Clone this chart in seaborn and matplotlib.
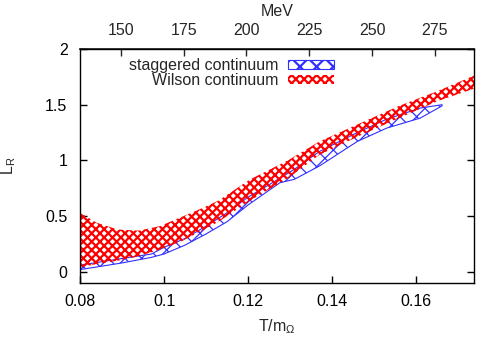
import numpy as np
import pandas as pd
import matplotlib
matplotlib.use("Agg")
import matplotlib.pyplot as plt
import seaborn as sns

# ---- data ----
wil_T  = [0.080, 0.084, 0.089, 0.094, 0.099, 0.104, 0.109, 0.113, 0.1205, 0.1295, 0.137, 0.1465, 0.156, 0.165, 0.175]
wil_hi = [0.53, 0.44, 0.38, 0.37, 0.41, 0.49, 0.57, 0.64, 0.83, 1.00, 1.17, 1.33, 1.49, 1.62, 1.78]
wil_lo = [0.04, 0.07, 0.10, 0.14, 0.20, 0.27, 0.37, 0.45, 0.64, 0.84, 1.05, 1.22, 1.38, 1.53, 1.66]

stg_T  = [0.080, 0.085, 0.090, 0.097, 0.100, 0.105, 0.110, 0.115, 0.120, 0.1276, 0.131, 0.137, 0.146, 0.153, 0.161, 0.1662]
stg_lo = [0.02, 0.05, 0.08, 0.13, 0.16, 0.24, 0.34, 0.45, 0.60, 0.80, 0.83, 0.95, 1.17, 1.29, 1.38, 1.49]
stg_hi = [0.06, 0.09, 0.12, 0.16, 0.22, 0.30, 0.41, 0.53, 0.67, 0.84, 0.92, 1.08, 1.25, 1.37, 1.47, 1.50]

m_omega = 1672.0
mev_ticks = [150, 175, 200, 225, 250, 275]
x_ticks = [0.08, 0.10, 0.12, 0.14, 0.16]
x_ticklabels = ["0.08", "0.1", "0.12", "0.14", "0.16"]
y_ticks = [0, 0.5, 1, 1.5, 2]
y_ticklabels = ["0", "0.5", "1", "1.5", "2"]

sns.set_theme(style="ticks")
plt.rcParams["font.family"] = ["Liberation Sans", "DejaVu Sans"]
plt.rcParams["mathtext.fontset"] = "custom"
plt.rcParams["mathtext.rm"] = "Liberation Sans"
plt.rcParams["mathtext.it"] = "Liberation Sans"

FS = 11.5
fig = plt.figure(figsize=(5.04, 3.53), dpi=100)
ax = fig.add_axes([80/504, 1 - 283/353, 394/504, 234/353])

stg_df = pd.DataFrame({"T": stg_T, "lo": stg_lo, "hi": stg_hi})
wil_df = pd.DataFrame({"T": wil_T, "lo": wil_lo, "hi": wil_hi})

# staggered band: blue outline + sparse x hatch
plt.rcParams["hatch.linewidth"] = 0.9
fb1 = ax.fill_between(stg_df["T"], stg_df["lo"], stg_df["hi"], facecolor="none",
                      edgecolor="#3030ff", linewidth=0.8, hatch="xx",
                      label="staggered continuum")
try:
    fb1.set_hatch_linewidth(0.9)
except Exception:
    pass

# Wilson band: thick red cross hatch, no outline
plt.rcParams["hatch.linewidth"] = 1.6
fb2 = ax.fill_between(wil_df["T"], wil_df["lo"], wil_df["hi"], facecolor="none",
                      edgecolor="#ff0000", linewidth=0, hatch="xxxx",
                      label="Wilson continuum")
try:
    fb2.set_hatch_linewidth(1.6)
except Exception:
    pass

ax.set_xlim(0.08, 0.1738)
ax.set_ylim(-0.1, 2.0)
ax.set_xticks(x_ticks)
ax.set_xticklabels(x_ticklabels)
ax.set_yticks(y_ticks)
ax.set_yticklabels(y_ticklabels)
ax.tick_params(axis="both", direction="in", length=5, width=1, labelsize=FS,
               colors="black", pad=8)
ax.tick_params(axis="y", right=True, pad=9)
ax.tick_params(axis="x", top=False)
for s in ax.spines.values():
    s.set_visible(True)
    s.set_color("black")
    s.set_linewidth(1.0)

ax.set_xlabel(r"T/m$_\Omega$", fontsize=FS)
ax.set_ylabel(r"L$_\mathrm{R}$", fontsize=FS)
ax.xaxis.set_label_coords(0.5, -0.145)
ax.yaxis.set_label_coords(-0.157, 0.5)

sec = ax.secondary_xaxis("top", functions=(lambda t: t * m_omega, lambda e: e / m_omega))
sec.set_xticks(mev_ticks)
sec.tick_params(direction="in", length=5, width=1, labelsize=FS, pad=8)
sec.set_xlabel("MeV", fontsize=FS, labelpad=5)

leg = ax.legend(loc="upper right", bbox_to_anchor=(0.645, 0.962), frameon=False,
                markerfirst=False, fontsize=FS, handlelength=2.9, handleheight=0.5,
                handletextpad=0.6, labelspacing=0.0, borderpad=0, borderaxespad=0)

fig.savefig("out.png", dpi=100)
